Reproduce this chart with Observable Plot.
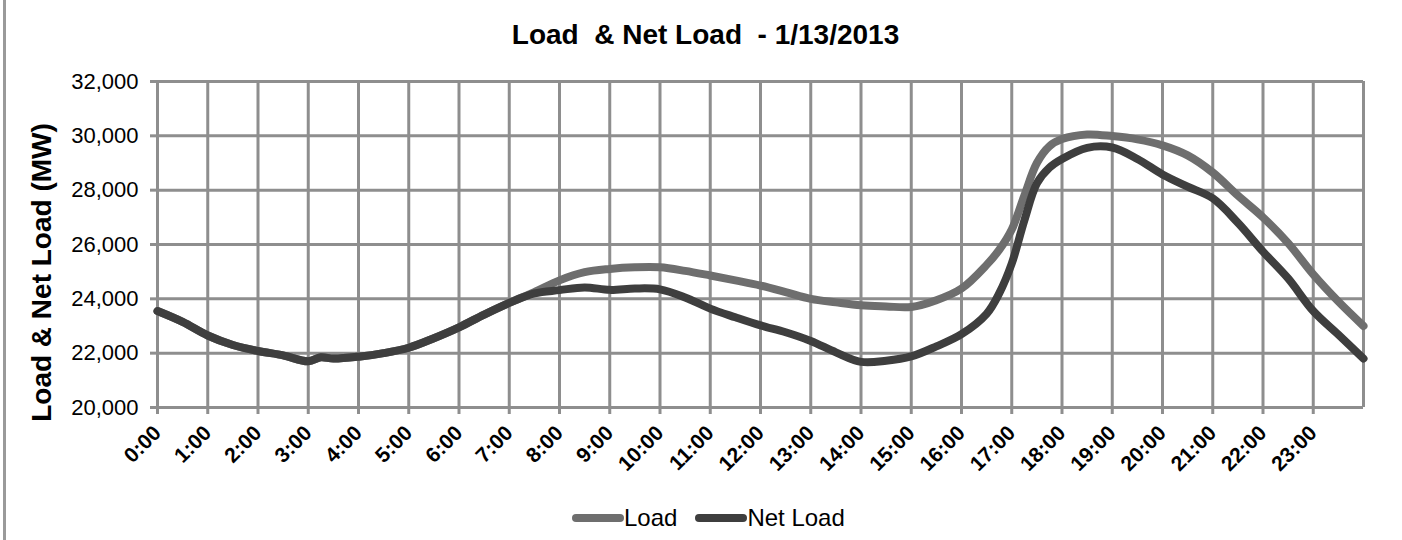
<!DOCTYPE html>
<html>
<head>
<meta charset="utf-8">
<script src="https://cdn.jsdelivr.net/npm/d3@7"></script>
<script src="https://cdn.jsdelivr.net/npm/@observablehq/plot@0.6"></script>
<style>
  html, body { margin: 0; padding: 0; background: #fff; }
  body { font-family: "Liberation Sans", Arial, sans-serif; }
  #wrap { position: relative; width: 1402px; height: 540px; overflow: hidden; }
  #border { position: absolute; left: 3px; top: 0; width: 3px; height: 540px; background: #9a9a9a; }
  #legend { position: absolute; left: 572px; top: 506px; display: flex; align-items: center;
            font-size: 24px; line-height: 24px; color: #000; white-space: pre; }
  #legend .item { display: flex; align-items: center; }
  #legend .item + .item { margin-left: 18px; }
  svg text { white-space: pre; }
</style>
</head>
<body>
<div id="wrap"><div id="border"></div></div>
<script>
// ---- data ----
const titleText = "Load  & Net Load  - 1/13/2013";
const yLabelText = "Load & Net Load (MW)";
const seriesNames = ["Load", "Net Load"];
const hours = [0,0.5,1,1.5,2,2.5,3,3.25,3.5,4,4.5,5,5.5,6,6.5,7,7.5,8,8.5,9,9.5,10,10.5,11,11.5,12,12.5,13,13.5,14,14.5,15,15.5,16,16.5,16.75,17,17.25,17.5,17.75,18,18.5,19,19.5,20,20.5,21,21.5,22,22.5,23,23.5,24];
const load = [23550,23150,22650,22300,22080,21920,21700,21850,21800,21870,22000,22200,22550,22950,23420,23850,24250,24680,24980,25100,25160,25160,25030,24860,24680,24490,24250,24000,23870,23760,23720,23700,23950,24380,25250,25800,26550,27800,29000,29620,29880,30050,29990,29870,29650,29280,28650,27800,27000,26050,24900,23900,23000];
const netLoad = [23550,23150,22650,22300,22080,21920,21700,21850,21800,21870,22000,22200,22550,22950,23420,23850,24200,24320,24420,24330,24380,24350,24050,23640,23320,23020,22770,22450,22030,21680,21720,21880,22250,22700,23450,24200,25300,26880,28250,28830,29150,29560,29570,29150,28580,28130,27700,26800,25740,24750,23550,22680,21800];
const yTicks = [20000,22000,24000,26000,28000,30000,32000];
const xTicks = [0,1,2,3,4,5,6,7,8,9,10,11,12,13,14,15,16,17,18,19,20,21,22,23];
const xGrid = [0,1,2,3,4,5,6,7,8,9,10,11,12,13,14,15,16,17,18,19,20,21,22,23,24];

// ---- styles ----
const gridColor = "#8e8e8e";
const seriesColors = ["#6e6e6e", "#3e3e3e"];
const font = '"Liberation Sans", Arial, sans-serif';

const rows = [
  ...hours.map((h, i) => ({hour: h, value: load[i], series: seriesNames[0]})),
  ...hours.map((h, i) => ({hour: h, value: netLoad[i], series: seriesNames[1]}))
];

const chart = Plot.plot({
  width: 1402,
  height: 540,
  marginLeft: 157,
  marginRight: 39,
  marginTop: 81,
  marginBottom: 133,
  style: {fontFamily: font, background: "transparent", overflow: "visible", color: "#000"},
  x: {domain: [0, 24]},
  y: {domain: [20000, 32000]},
  color: {domain: seriesNames, range: seriesColors},
  marks: [
    Plot.ruleX(xGrid, {stroke: gridColor, strokeWidth: 3}),
    Plot.ruleY(yTicks, {stroke: gridColor, strokeWidth: 3}),
    Plot.axisY({ticks: yTicks, tickSize: 7, tickPadding: 12, tickFormat: d3.format(","),
                fontSize: 22, stroke: gridColor, strokeWidth: 3, fill: "#000", label: null}),
    Plot.axisX({ticks: xTicks, tickSize: 7, tickPadding: 15, tickRotate: -45,
                tickFormat: h => `${h}:00`, fontSize: 21, fontWeight: "bold",
                stroke: gridColor, strokeWidth: 3, fill: "#000", label: null}),
    Plot.line(rows, {x: "hour", y: "value", z: "series", stroke: "series",
                     strokeWidth: 8, curve: "catmull-rom", strokeLinecap: "round", strokeLinejoin: "round"}),
    Plot.text([titleText], {frameAnchor: "top", text: d => d, dx: -55, dy: -46, textAnchor: "middle",
                            fontSize: 28, fontWeight: "bold", lineAnchor: "middle", fill: "#000"}),
    Plot.text([yLabelText], {frameAnchor: "left", text: d => d, rotate: -90, dx: -115, dy: 28,
                             textAnchor: "middle", fontSize: 28, fontWeight: "bold", lineAnchor: "middle", fill: "#000"})
  ]
});

const wrap = document.getElementById("wrap");
wrap.appendChild(chart);
chart.style.position = "absolute";
chart.style.left = "0";
chart.style.top = "0";

// ---- legend ----
const legend = document.createElement("div");
legend.id = "legend";
seriesNames.forEach((name, i) => {
  const item = document.createElement("div");
  item.className = "item";
  const sw = document.createElementNS("http://www.w3.org/2000/svg", "svg");
  sw.setAttribute("width", "52");
  sw.setAttribute("height", "12");
  const ln = document.createElementNS("http://www.w3.org/2000/svg", "line");
  ln.setAttribute("x1", "4"); ln.setAttribute("x2", "48");
  ln.setAttribute("y1", "6"); ln.setAttribute("y2", "6");
  ln.setAttribute("stroke", seriesColors[i]);
  ln.setAttribute("stroke-width", "8");
  ln.setAttribute("stroke-linecap", "round");
  sw.appendChild(ln);
  const label = document.createElement("span");
  label.textContent = name;
  item.appendChild(sw);
  item.appendChild(label);
  legend.appendChild(item);
});
wrap.appendChild(legend);
</script>
</body>
</html>
